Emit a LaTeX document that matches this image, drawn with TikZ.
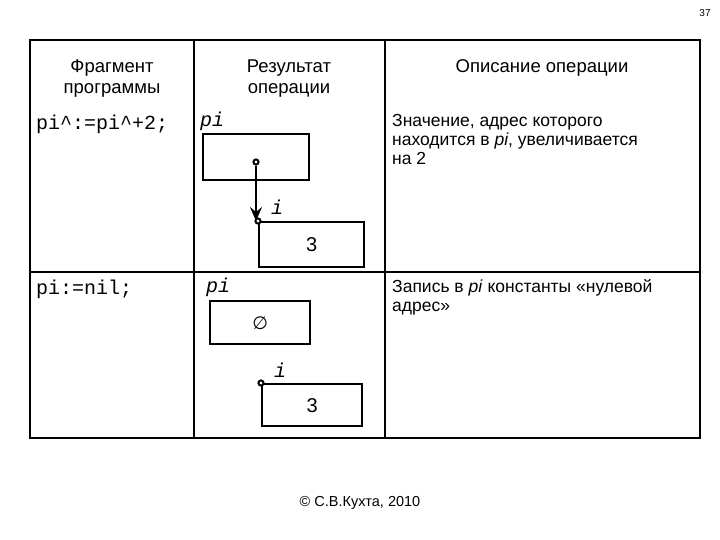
\documentclass[tikz,border=0pt]{standalone}
\usepackage{fontspec}
\setmainfont{Liberation Sans}
\setmonofont{Liberation Mono}
\newfontfamily\symfont{DejaVu Sans}
\usetikzlibrary{arrows.meta}
\begin{document}
\begin{tikzpicture}[x=1pt,y=-1pt,
  hd/.style={font=\fontsize{18.5}{21}\selectfont,align=center},
  txt/.style={font=\fontsize{17.5}{19}\selectfont,align=left,anchor=north west,inner sep=1pt},
  code/.style={font=\ttfamily\fontsize{20}{22}\selectfont,inner sep=1pt},
  box/.style={draw,line width=2.4pt,minimum width=105pt,minimum height=45pt,anchor=north west,font=\fontsize{20}{22}\selectfont},
  dot/.style={circle,draw,line width=2pt,fill=white,inner sep=1.8pt}]
\useasboundingbox (0,0) rectangle (720,540);
\node at (705,13) {\fontsize{10}{11}\selectfont 37};
\draw[line width=1.6pt] (30,40) rectangle (700,438);
\draw[line width=1.2pt] (194,40) -- (194,438) (385,40) -- (385,438);
\draw[line width=1.2pt] (30,272) -- (700,272);
\node[hd] (h1) at (112,79) {Фрагмент\\программы};
\node[hd] (h2) at (289,79) {Результат\\операции};
\node[hd] (h3) at (542,68) {Описание операции};
\node[code,anchor=west] (c1) at (35,124) {pi\^{}:=pi\^{}+2;};
\node[code,anchor=west] (c2) at (35,289) {pi:=nil;};
\node[txt] (d1) at (391,113) {Значение, адрес которого\\находится в \textit{pi}, увеличивается\\на 2};
\node[txt] (d2) at (391,278) {Запись в \textit{pi} константы «нулевой\\адрес»};
\node[code,anchor=west] (p1) at (199,121) {\textit{pi}};
\node[code,anchor=west] (p2) at (205,287) {\textit{pi}};
\node[box,minimum width=106pt,minimum height=46pt] (b1) at (202,133) {};
\node[box] (b2) at (258,221) {3};
\node[box,minimum width=100pt,minimum height=43pt] (b3) at (209,300) {\symfont\fontsize{18}{20}\selectfont ∅};
\node[box,minimum width=100pt,minimum height=42pt] (b4) at (261,383) {3};
\node[code] (i1) at (277,207) {\textit{i}};
\node[code] (i2) at (280,370) {\textit{i}};
\node[dot] (s1) at (256,162) {};
\coordinate (t1) at (256,221);
\draw[line width=2.4pt,-{Stealth[length=14pt,width=12pt,inset=5pt]}] (s1) -- (t1);
\node[dot] (e1) at (258,221) {};
\node[dot] (e2) at (261,383) {};
\node (cp) at (360,503) {\fontsize{14.5}{16}\selectfont © С.В.Кухта, 2010};
\end{tikzpicture}
\end{document}
